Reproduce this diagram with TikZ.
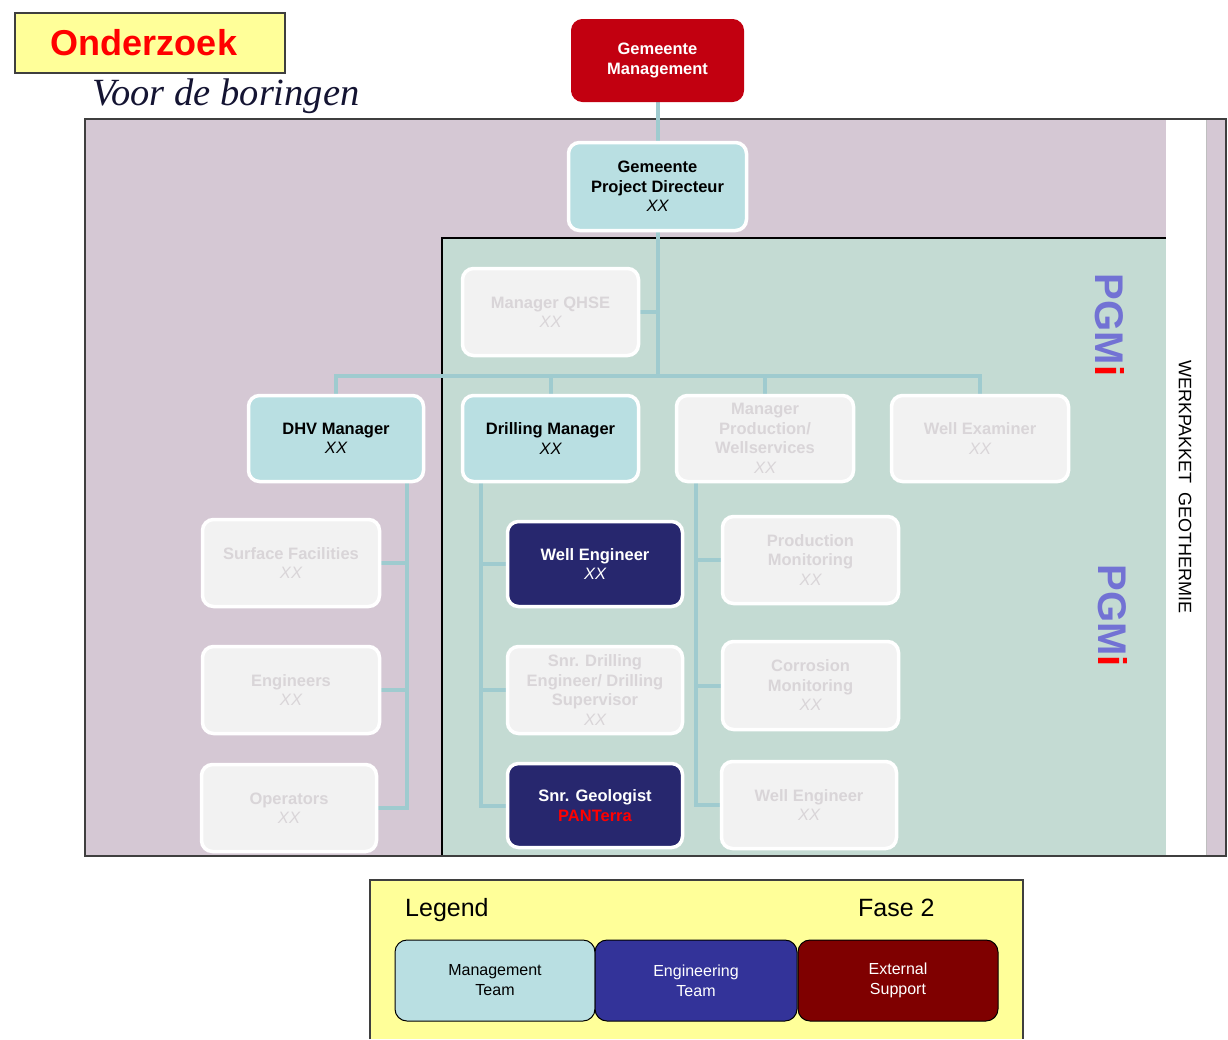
\documentclass[tikz,border=0pt]{standalone}
\usepackage{fontspec}
\setmainfont{Liberation Sans}
\newfontfamily\serifit{Liberation Serif}
\usetikzlibrary{calc}
\pgfdeclarelayer{bg}
\pgfdeclarelayer{lines}
\pgfsetlayers{bg,lines,main}
\definecolor{mauve}{HTML}{D5C8D4}
\definecolor{sage}{HTML}{C4DBD3}
\definecolor{connc}{HTML}{9FCBCF}
\definecolor{mgmtc}{HTML}{B9DFE2}
\definecolor{navyc}{HTML}{27276E}
\definecolor{gmred}{HTML}{C20010}
\definecolor{greyfill}{HTML}{F2F2F2}
\definecolor{greytxt}{HTML}{D9D5D8}
\definecolor{pale}{HTML}{FFFF99}
\definecolor{framec}{HTML}{3F3F3F}
\definecolor{pgmc}{HTML}{7272D4}
\definecolor{legblue}{HTML}{333399}
\definecolor{legred}{HTML}{7F0000}
\definecolor{voorc}{HTML}{141432}
\tikzset{
  box/.style={rounded corners=11pt, draw=white, line width=3.5pt, align=center, inner sep=2pt,
    font=\fontsize{16.5}{19.5}\selectfont\bfseries},
  mgmtbox/.style={box, fill=mgmtc, text=black},
  greybox/.style={box, fill=greyfill, text=greytxt},
  engbox/.style={box, fill=navyc, text=white},
  link/.style={draw=connc, line width=4pt},
  legbox/.style={rounded corners=12pt, draw=black, line width=1pt, minimum width=200pt,
    minimum height=81pt, align=center, font=\fontsize{16}{20}\selectfont},
}
\newcommand{\xx}{{\mdseries\itshape XX}}
\begin{document}
\begin{tikzpicture}[x=1pt,y=-1pt]
\useasboundingbox (0,0) rectangle (1228,1039);

% ---------- backgrounds ----------
\begin{pgfonlayer}{bg}
  \fill[mauve] (85,119) rectangle (1226,856);
  \fill[sage] (442,238) rectangle (1166,856);
  \fill[white] (1166,119) rectangle (1206,856);
  \draw[black!25, line width=0.6pt] (1206,119) -- (1206,856);
  \draw[black, line width=1.2pt] (442,856) -- (442,238) -- (1166,238);
  \draw[framec, line width=2pt] (85,119) rectangle (1226,856);
  % legend background
  \fill[pale] (370,880) rectangle (1023,1039);
  \draw[framec, line width=1.5pt] (370,1039) -- (370,880) -- (1023,880) -- (1023,1039);
\end{pgfonlayer}

% ---------- title ----------
\node[draw=framec, line width=1.5pt, fill=pale, minimum width=270pt, minimum height=60pt,
  text=red, font=\fontsize{36}{40}\selectfont\bfseries] (title) at (150,43) {\hspace{-12pt}Onderzoek};
\node[anchor=west, text=voorc, font=\serifit\itshape\fontsize{38.5}{42}\selectfont, inner sep=0pt]
  (voor) at (92,96) {Voor de boringen};

% ---------- nodes ----------
\node[box, fill=gmred, draw=gmred, line width=1pt, text=white, minimum width=172pt, minimum height=82pt]
  (gm) at (657.5,60.5) {Gemeente\\Management};
\node[mgmtbox, minimum width=178pt, minimum height=88pt] (gpd) at (657.5,186.5)
  {Gemeente\\Project Directeur\\\xx};
\node[greybox, minimum width=176pt, minimum height=87pt] (qhse) at (550.5,312) {Manager QHSE\\\xx};

\node[mgmtbox, minimum width=175pt, minimum height=86pt] (dhv) at (336,438.5) {DHV Manager\\\xx};
\node[mgmtbox, minimum width=176pt, minimum height=86pt] (drl) at (550.5,438.5) {Drilling Manager\\\xx};
\node[greybox, minimum width=177pt, minimum height=86pt] (mpw) at (765,438.5)
  {Manager\\Production/\\Wellservices\\\xx};
\node[greybox, minimum width=177pt, minimum height=86pt] (wex) at (980,438.5) {Well Examiner\\\xx};

\node[greybox, minimum width=177pt, minimum height=87pt] (sf) at (291,563) {Surface Facilities\\\xx};
\node[greybox, minimum width=177pt, minimum height=87pt] (eng) at (291,690) {Engineers\\\xx};
\node[greybox, minimum width=175pt, minimum height=87pt] (ops) at (289,808) {Operators\\\xx};

\node[engbox, minimum width=175pt, minimum height=85pt] (we1) at (595,564) {Well Engineer\\\xx};
\node[greybox, minimum width=175pt, minimum height=87pt] (sde) at (595,690)
  {Snr. Drilling\\Engineer/ Drilling\\Supervisor\\\xx};
\node[engbox, minimum width=175pt, minimum height=84pt] (geo) at (595,805.5)
  {Snr. Geologist\\\textcolor{red}{PANTerra}};

\node[greybox, minimum width=176pt, minimum height=87pt] (pm) at (810.5,560)
  {Production\\Monitoring\\\xx};
\node[greybox, minimum width=176pt, minimum height=88pt] (cm) at (810.5,685.5)
  {Corrosion\\Monitoring\\\xx};
\node[greybox, minimum width=175pt, minimum height=87pt] (we2) at (809,805) {Well Engineer\\\xx};

% ---------- side labels ----------
\node[rotate=-90, inner sep=0pt, font=\fontsize{40}{40}\selectfont\bfseries] (pgm1) at (1110,325)
  {\textcolor{pgmc}{PGM}\textcolor{red}{i}};
\node[rotate=-90, inner sep=0pt, font=\fontsize{40}{40}\selectfont\bfseries] (pgm2) at (1113,615.5)
  {\textcolor{pgmc}{PGM}\textcolor{red}{i}};
\node[rotate=-90, inner sep=0pt, font=\fontsize{18}{20}\selectfont] (wp) at (1185,487)
  {WERKPAKKET\hspace{9pt}GEOTHERMIE};

% ---------- connectors ----------
\begin{pgfonlayer}{lines}
  \coordinate (bus) at (657.5,376);
  \draw[link] (gm.south) -- (gpd.north);
  \draw[link] (gpd.south) -- (bus);
  \draw[link] (qhse.east) -- (qhse.east -| gpd.south);
  \draw[link] (dhv.north) -- (dhv.north |- bus) -| (wex.north);
  \draw[link] (drl.north) -- (drl.north |- bus);
  \draw[link] (mpw.north) -- (mpw.north |- bus);
  % DHV branch
  \draw[link] ($(dhv.south)+(71,0)$) coordinate (dt) |- (ops.east);
  \draw[link] (sf.east) -- (sf.east -| dt);
  \draw[link] (eng.east) -- (eng.east -| dt);
  % Drilling branch
  \draw[link] ($(drl.south)+(-69.5,0)$) coordinate (drt) |- (geo.west);
  \draw[link] (we1.west) -- (we1.west -| drt);
  \draw[link] (sde.west) -- (sde.west -| drt);
  % Production branch
  \draw[link] ($(mpw.south)+(-69,0)$) coordinate (mt) |- (we2.west);
  \draw[link] (pm.west) -- (pm.west -| mt);
  \draw[link] (cm.west) -- (cm.west -| mt);
\end{pgfonlayer}

% ---------- legend ----------
\node[anchor=base west, inner sep=0pt, font=\fontsize{25}{28}\selectfont] (leg) at (405,916) {Legend};
\node[anchor=base west, inner sep=0pt, font=\fontsize{25}{28}\selectfont] (fase) at (858,916) {Fase 2};
\node[legbox, fill=mgmtc, text=black] (lm) at (495,980.5) {Management\\Team};
\node[legbox, fill=legblue, text=white, minimum width=202pt] (le) at (696,980.5) {Engineering\\Team};
\node[legbox, fill=legred, text=white] (lx) at (898,980.5) {External\\Support};
\end{tikzpicture}
\end{document}
